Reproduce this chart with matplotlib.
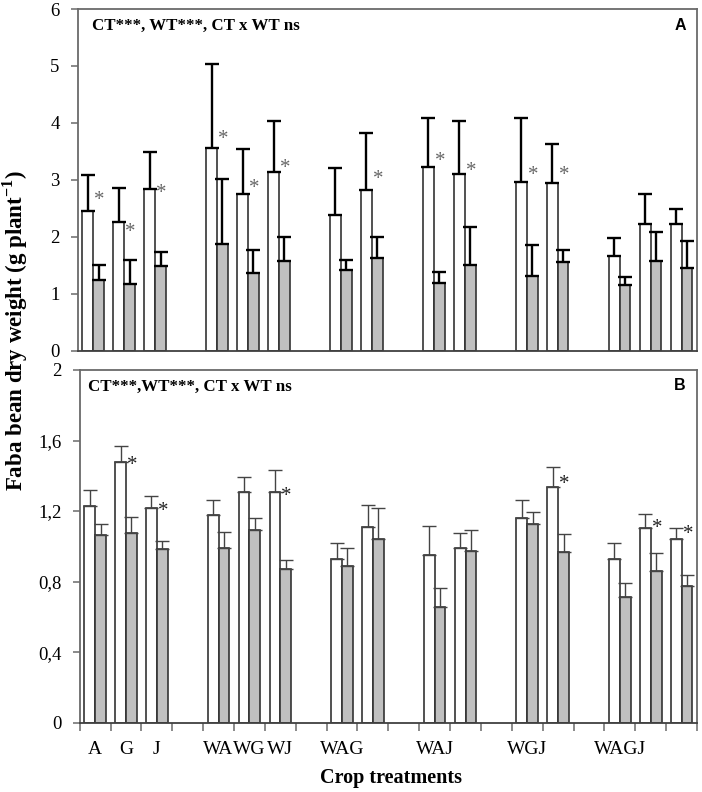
import numpy as np
import matplotlib
matplotlib.use("Agg")
import matplotlib.pyplot as plt

plt.rcParams['font.family'] = ['Liberation Serif', 'DejaVu Serif']
plt.rcParams['mathtext.fontset'] = 'custom'
plt.rcParams['mathtext.rm'] = 'Liberation Serif'
plt.rcParams['mathtext.bf'] = 'Liberation Serif:bold'

nan = np.nan
categories = ["A", "G", "J", "", "WA", "WG", "WJ", "", "WAG", "", "", "WAJ", "", "",
              "WGJ", "", "", "WAGJ", "", ""]

# Panel A (g plant-1)
a_white = [2.45, 2.26, 2.84, nan, 3.56, 2.76, 3.14, nan, 2.39, 2.83, nan, 3.23, 3.10, nan,
           2.96, 2.94, nan, 1.67, 2.22, 2.22]
a_white_err = [0.63, 0.60, 0.65, nan, 1.47, 0.79, 0.90, nan, 0.81, 1.00, nan, 0.85, 0.94, nan,
               1.13, 0.69, nan, 0.31, 0.54, 0.26]
a_gray = [1.25, 1.17, 1.49, nan, 1.87, 1.37, 1.57, nan, 1.42, 1.63, nan, 1.18, 1.51, nan,
          1.32, 1.56, nan, 1.15, 1.57, 1.46]
a_gray_err = [0.26, 0.42, 0.25, nan, 1.15, 0.40, 0.43, nan, 0.18, 0.37, nan, 0.21, 0.66, nan,
              0.54, 0.20, nan, 0.14, 0.51, 0.47]
a_star = [2.63, 2.07, 2.76, nan, 3.70, 2.85, 3.20, nan, nan, 3.00, nan, 3.32, 3.15, nan,
          3.07, 3.07, nan, nan, nan, nan]

# Panel B
b_white = [1.23, 1.48, 1.22, nan, 1.18, 1.31, 1.31, nan, 0.93, 1.11, nan, 0.95, 0.99, nan,
           1.16, 1.335, nan, 0.93, 1.105, 1.04]
b_white_err = [0.09, 0.09, 0.063, nan, 0.084, 0.081, 0.122, nan, 0.091, 0.123, nan, 0.168, 0.083, nan,
               0.104, 0.117, nan, 0.091, 0.081, 0.064]
b_gray = [1.063, 1.073, 0.984, nan, 0.991, 1.095, 0.872, nan, 0.89, 1.044, nan, 0.655, 0.971, nan,
          1.124, 0.967, nan, 0.712, 0.859, 0.776]
b_gray_err = [0.063, 0.094, 0.045, nan, 0.089, 0.068, 0.05, nan, 0.103, 0.176, nan, 0.108, 0.121, nan,
              0.071, 0.104, nan, 0.081, 0.104, 0.064]
b_star = [nan, 1.46, 1.20, nan, nan, nan, 1.28, nan, nan, nan, nan, nan, nan, nan,
          nan, 1.35, nan, nan, 1.10, 1.065]

a_yticks = [0, 1, 2, 3, 4, 5, 6]
a_yticklabels = ["0", "1", "2", "3", "4", "5", "6"]
b_yticks = [0, 0.4, 0.8, 1.2, 1.6, 2.0]
b_yticklabels = ["0", "0,4", "0,8", "1,2", "1,6", "2"]

W, H = 702, 792
fig = plt.figure(figsize=(W / 100, H / 100), dpi=100)
axA = fig.add_axes([77.7 / W, 1 - 350.7 / H, (697 - 77.7) / W, (350.7 - 9) / H])
axB = fig.add_axes([79.7 / W, 1 - 722.7 / H, (697 - 79.7) / W, (722.7 - 370) / H])

x = np.arange(len(categories))
bw = 0.35
edge = "#333333"


def panel(ax, white, werr, gray, gerr, star, ecol, elw, cap, starcol):
    white = np.array(white, float); werr = np.array(werr, float)
    gray = np.array(gray, float); gerr = np.array(gerr, float)
    star = np.array(star, float)
    m = ~np.isnan(white)
    ax.bar(x[m] - bw / 2, white[m], bw, color="white", edgecolor=edge, linewidth=1.2, zorder=2)
    ax.bar(x[m] + bw / 2, gray[m], bw, color="#c0c0c0", edgecolor=edge, linewidth=1.2, zorder=2)
    z = np.zeros(m.sum())
    ax.errorbar(x[m] - bw / 2, white[m], yerr=[z, werr[m]], fmt="none", ecolor=ecol,
                elinewidth=elw, capsize=cap, capthick=elw, zorder=3)
    ax.errorbar(x[m] + bw / 2, gray[m], yerr=[z, gerr[m]], fmt="none", ecolor=ecol,
                elinewidth=elw, capsize=cap, capthick=elw, zorder=3)
    for xi, s in zip(x, star):
        if not np.isnan(s):
            ax.text(xi + 0.2, s, "*", ha="center", va="center", fontsize=15,
                    color=starcol, zorder=4)
    ax.set_xlim(-0.5, len(categories) - 0.5)
    for sp in ax.spines.values():
        sp.set_color("#6a6a6a")
        sp.set_linewidth(1.3)
    ax.spines["bottom"].set_color("#404040")
    ax.tick_params(axis="y", direction="out", length=5, width=1.1, color="#6a6a6a",
                   labelsize=13.5, pad=8)


panel(axA, a_white, a_white_err, a_gray, a_gray_err, a_star, "black", 1.7, 4.8, "#666666")
panel(axB, b_white, b_white_err, b_gray, b_gray_err, b_star, "#444444", 1.0, 5.0, "#222222")

axA.set_ylim(0, 6)
axA.set_yticks(a_yticks)
axA.set_yticklabels(a_yticklabels)
axA.set_xticks([])

axB.set_ylim(0, 2)
axB.set_yticks(b_yticks)
axB.set_yticklabels(b_yticklabels)
axB.set_xticks(x)
axB.set_xticklabels(categories, fontsize=14)
axB.tick_params(axis="x", which="major", length=0, pad=13)
axB.set_xticks(np.arange(-0.5, len(categories), 1), minor=True)
axB.tick_params(axis="x", which="minor", direction="out", length=6, width=1.1, color="#6a6a6a")

axA.text(0.023, 0.951, "CT***, WT***, CT x WT ns", transform=axA.transAxes, fontsize=12.2,
         fontweight="bold", ha="left", va="center")
axB.text(0.013, 0.953, "CT***,WT***, CT x WT ns", transform=axB.transAxes, fontsize=12.2,
         fontweight="bold", ha="left", va="center")
axA.text(0.9725, 0.953, "A", transform=axA.transAxes, fontsize=11.5, fontweight="bold",
         family="Liberation Sans", ha="center", va="center")
axB.text(0.9725, 0.955, "B", transform=axB.transAxes, fontsize=11.5, fontweight="bold",
         family="Liberation Sans", ha="center", va="center")

fig.text(15 / W, 1 - 331 / H, r"Faba bean dry weight (g plant$^{\mathbf{-1}}$)", rotation=90,
         ha="center", va="center", fontsize=16.5, fontweight="bold")
fig.text(391 / W, 1 - 778 / H, "Crop treatments", ha="center", va="center", fontsize=14.5,
         fontweight="bold")

fig.savefig("out.png", dpi=100, facecolor="white")
